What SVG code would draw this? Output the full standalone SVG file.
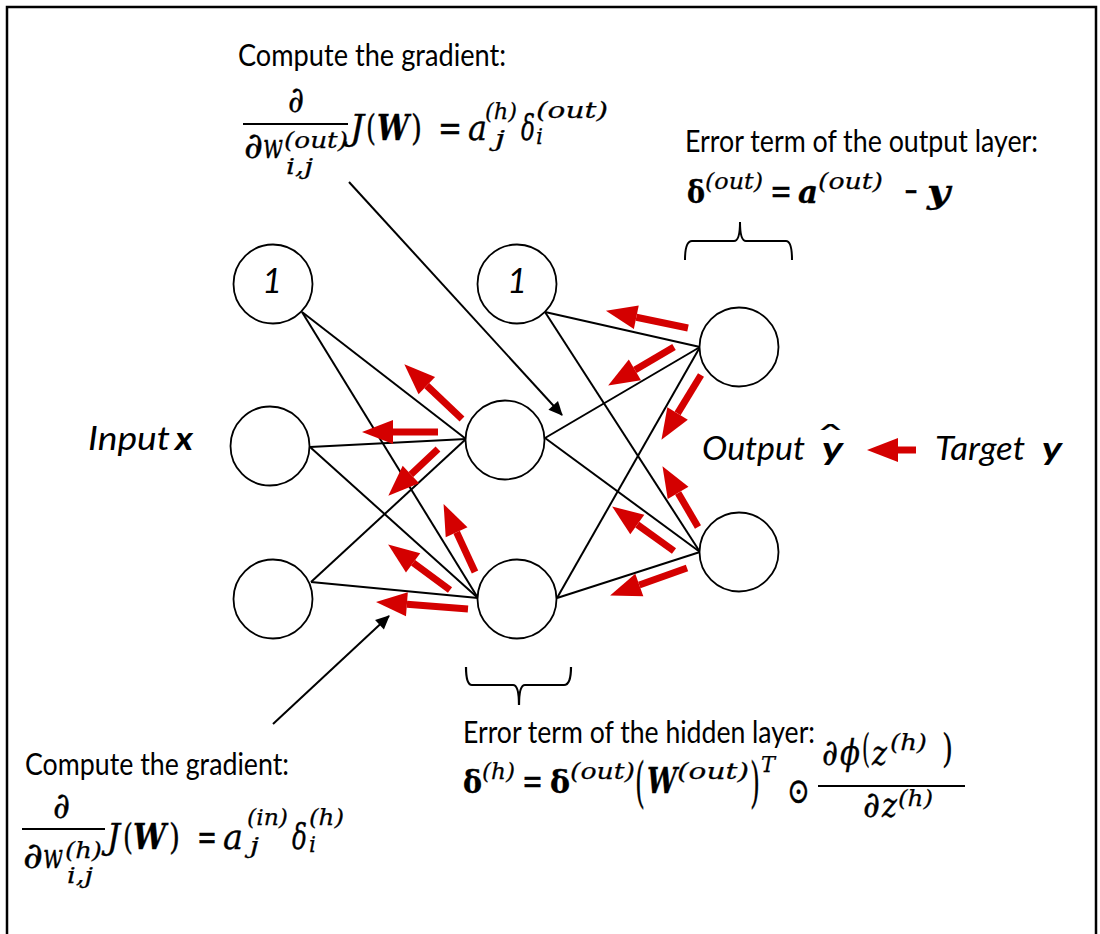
<svg xmlns="http://www.w3.org/2000/svg" width="1100" height="934" viewBox="0 0 1100 934">
<style>
.lbl{font-family:Lato,"Open Sans",sans-serif;font-size:30px;fill:#000}
.it{font-family:Lato,"Open Sans",sans-serif;font-style:italic;font-size:33px;fill:#000}
.m{font-family:"DejaVu Serif","Liberation Serif",serif;font-style:italic;font-size:36px;fill:#000;stroke:#000;stroke-width:0.35}
.mu{font-family:"DejaVu Serif","Liberation Serif",serif;font-size:36px;fill:#000;stroke:#000;stroke-width:0.35}
.s{font-family:"DejaVu Serif","Liberation Serif",serif;font-style:italic;font-size:23px;fill:#000;stroke:#000;stroke-width:0.25}
.b{font-weight:bold}
.node{fill:#fff;stroke:#000;stroke-width:1.8}
.edge{stroke:#000;stroke-width:2;fill:none}
.red{stroke:#d40000;stroke-width:7;fill:none;marker-end:url(#rh)}
.blk{stroke:#000;stroke-width:2;fill:none;marker-end:url(#bh)}
.frac{stroke:#000;stroke-width:1.8}
</style>
<defs>
<marker id="rh" markerUnits="userSpaceOnUse" markerWidth="32" markerHeight="26" refX="0" refY="12" orient="auto" overflow="visible">
<path d="M0,0 L31,12 L0,24 z" fill="#d40000"/>
</marker>
<marker id="bh" markerUnits="userSpaceOnUse" markerWidth="16" markerHeight="14" refX="13" refY="6.5" orient="auto" overflow="visible">
<path d="M0,0 L14,6.5 L0,13 z" fill="#000"/>
</marker>
</defs>
<rect width="1100" height="934" fill="#fff"/>
<path d="M7,934 V7 H1096 V934" fill="none" stroke="#000" stroke-width="2.5"/>

<g id="connectors">
<line class="edge" x1="302" y1="312" x2="466" y2="439"/>
<line class="edge" x1="302" y1="312" x2="478" y2="598"/>
<line class="edge" x1="310" y1="447" x2="466" y2="439"/>
<line class="edge" x1="310" y1="447" x2="478" y2="598"/>
<line class="edge" x1="311" y1="582" x2="466" y2="439"/>
<line class="edge" x1="311" y1="582" x2="478" y2="598"/>
<line class="edge" x1="545" y1="312" x2="700" y2="347"/>
<line class="edge" x1="545" y1="312" x2="700" y2="552"/>
<line class="edge" x1="545" y1="438" x2="700" y2="347"/>
<line class="edge" x1="545" y1="438" x2="700" y2="552"/>
<line class="edge" x1="557" y1="598" x2="700" y2="347"/>
<line class="edge" x1="557" y1="598" x2="700" y2="552"/>
<line class="blk" x1="349" y1="182" x2="562" y2="415"/>
<line class="blk" x1="273" y1="724" x2="389" y2="616"/>
</g>

<g id="backprop-arrows">
<line class="red" x1="462" y1="419" x2="426.8" y2="385.6"/>
<line class="red" x1="438" y1="432" x2="393" y2="432"/>
<line class="red" x1="438" y1="449" x2="410.9" y2="474.5"/>
<line class="red" x1="475" y1="572" x2="456.6" y2="532.2"/>
<line class="red" x1="450" y1="590" x2="413.1" y2="562.8"/>
<line class="red" x1="468" y1="609" x2="406.9" y2="604.3"/>
<line class="red" x1="688" y1="328" x2="636.3" y2="317.2"/>
<line class="red" x1="674" y1="347" x2="634.9" y2="369.9"/>
<line class="red" x1="701" y1="375" x2="677.6" y2="413.4"/>
<line class="red" x1="698" y1="527" x2="678.1" y2="492.9"/>
<line class="red" x1="674" y1="551" x2="637.3" y2="524.6"/>
<line class="red" x1="687" y1="568" x2="639.3" y2="585"/>
<line class="red" x1="916" y1="450" x2="898" y2="450"/>
</g>

<g id="input-bias"><circle class="node" cx="273" cy="284" r="39.5"/><text class="it" x="272" y="293" text-anchor="middle" style="font-size:34px">1</text></g>
<g id="input-x1"><circle class="node" cx="270" cy="446" r="39.5"/></g>
<g id="input-x2"><circle class="node" cx="273" cy="599" r="39.5"/></g>
<g id="hidden-bias"><circle class="node" cx="517" cy="284" r="39.5"/><text class="it" x="517" y="293" text-anchor="middle" style="font-size:34px">1</text></g>
<g id="hidden-h1"><circle class="node" cx="505" cy="440" r="39.5"/></g>
<g id="hidden-h2"><circle class="node" cx="517" cy="599" r="39.5"/></g>
<g id="output-o1"><circle class="node" cx="739" cy="347" r="39.5"/></g>
<g id="output-o2"><circle class="node" cx="739" cy="552" r="39.5"/></g>

<g id="braces">
<path d="M685,260 Q685,241 692,241 H734 Q740,241 740,222 Q740,241 746,241 H786 Q792,241 792,260" fill="none" stroke="#000" stroke-width="2"/>
<path d="M466,667 Q466,685 472,685 H513 Q519,685 519,705 Q519,685 525,685 H564 Q571,685 571,667" fill="none" stroke="#000" stroke-width="2.2"/>
</g>

<g id="label-input">
<text class="it" x="88" y="450" textLength="82" lengthAdjust="spacingAndGlyphs">Input</text>
<text class="it b" x="175" y="450" textLength="18" lengthAdjust="spacingAndGlyphs">x</text>
</g>
<g id="label-output">
<text class="it" x="702" y="460" textLength="103" lengthAdjust="spacingAndGlyphs">Output</text>
<text class="it b" x="822" y="460" textLength="21" lengthAdjust="spacingAndGlyphs">y</text>
<text class="mu" x="815" y="451" textLength="31" lengthAdjust="spacingAndGlyphs" style="font-size:34px;stroke-width:0.2">ˆ</text>
</g>
<g id="label-target">
<text class="it" x="935" y="460" textLength="90" lengthAdjust="spacingAndGlyphs">Target</text>
<text class="it b" x="1042" y="460" textLength="20" lengthAdjust="spacingAndGlyphs">y</text>
</g>

<g id="grad-out">
<text class="lbl" x="238" y="66" textLength="268" lengthAdjust="spacingAndGlyphs">Compute the gradient:</text>
<text class="m" x="288" y="112" textLength="16" lengthAdjust="spacingAndGlyphs">∂</text>
<line class="frac" x1="243" y1="124" x2="348" y2="124"/>
<text class="m" x="244" y="158" textLength="19" lengthAdjust="spacingAndGlyphs">∂</text>
<text class="m" x="263" y="158" textLength="20" lengthAdjust="spacingAndGlyphs">w</text>
<text class="s" x="284" y="148" textLength="64" lengthAdjust="spacingAndGlyphs">(out)</text>
<text class="s" x="286" y="174" textLength="27" lengthAdjust="spacingAndGlyphs">i,j</text>
<text class="m" x="350" y="140" textLength="14" lengthAdjust="spacingAndGlyphs">J</text>
<text class="mu" x="366" y="140" textLength="10" lengthAdjust="spacingAndGlyphs">(</text>
<text class="m b" x="377" y="140" textLength="32" lengthAdjust="spacingAndGlyphs">W</text>
<text class="mu" x="411" y="140" textLength="11" lengthAdjust="spacingAndGlyphs">)</text>
<text class="mu" x="438" y="140" textLength="24" lengthAdjust="spacingAndGlyphs">=</text>
<text class="m" x="468" y="140" textLength="19" lengthAdjust="spacingAndGlyphs">a</text>
<text class="s" x="485" y="119" textLength="32" lengthAdjust="spacingAndGlyphs">(h)</text>
<text class="s" x="495" y="146" textLength="10" lengthAdjust="spacingAndGlyphs">j</text>
<text class="m" x="521" y="140" textLength="14" lengthAdjust="spacingAndGlyphs">δ</text>
<text class="s" x="536" y="118" textLength="72" lengthAdjust="spacingAndGlyphs">(out)</text>
<text class="s" x="536" y="144" textLength="7" lengthAdjust="spacingAndGlyphs">i</text>
</g>

<g id="error-out">
<text class="lbl" x="685" y="152" textLength="353" lengthAdjust="spacingAndGlyphs">Error term of the output layer:</text>
<text class="mu b" x="687" y="203" textLength="18" lengthAdjust="spacingAndGlyphs" style="font-size:32px">δ</text>
<text class="s" x="705" y="189" textLength="58" lengthAdjust="spacingAndGlyphs">(out)</text>
<text class="mu" x="770" y="203" textLength="22" lengthAdjust="spacingAndGlyphs">=</text>
<text class="m b" x="798" y="203" textLength="20" lengthAdjust="spacingAndGlyphs" style="font-size:32px">a</text>
<text class="s" x="818" y="189" textLength="65" lengthAdjust="spacingAndGlyphs">(out)</text>
<text class="mu" x="904" y="203" textLength="14" lengthAdjust="spacingAndGlyphs">−</text>
<text class="m b" x="927" y="203" textLength="23" lengthAdjust="spacingAndGlyphs" style="font-size:32px">y</text>
</g>

<g id="grad-hidden">
<text class="lbl" x="25" y="775" textLength="264" lengthAdjust="spacingAndGlyphs">Compute the gradient:</text>
<text class="m" x="53" y="818" textLength="17" lengthAdjust="spacingAndGlyphs">∂</text>
<line class="frac" x1="22" y1="829" x2="105" y2="829"/>
<text class="m" x="23" y="868" textLength="20" lengthAdjust="spacingAndGlyphs">∂</text>
<text class="m" x="43" y="868" textLength="20" lengthAdjust="spacingAndGlyphs">w</text>
<text class="s" x="65" y="858" textLength="37" lengthAdjust="spacingAndGlyphs">(h)</text>
<text class="s" x="67" y="883" textLength="26" lengthAdjust="spacingAndGlyphs">i,j</text>
<text class="m" x="107" y="849" textLength="13" lengthAdjust="spacingAndGlyphs">J</text>
<text class="mu" x="123" y="849" textLength="10" lengthAdjust="spacingAndGlyphs">(</text>
<text class="m b" x="133" y="849" textLength="33" lengthAdjust="spacingAndGlyphs">W</text>
<text class="mu" x="169" y="849" textLength="11" lengthAdjust="spacingAndGlyphs">)</text>
<text class="mu" x="197" y="849" textLength="20" lengthAdjust="spacingAndGlyphs">=</text>
<text class="m" x="223" y="849" textLength="20" lengthAdjust="spacingAndGlyphs">a</text>
<text class="s" x="247" y="825" textLength="41" lengthAdjust="spacingAndGlyphs">(in)</text>
<text class="s" x="250" y="853" textLength="9" lengthAdjust="spacingAndGlyphs">j</text>
<text class="m" x="292" y="849" textLength="15" lengthAdjust="spacingAndGlyphs">δ</text>
<text class="s" x="309" y="825" textLength="35" lengthAdjust="spacingAndGlyphs">(h)</text>
<text class="s" x="309" y="852" textLength="7" lengthAdjust="spacingAndGlyphs">i</text>
</g>

<g id="error-hidden">
<text class="lbl" x="463" y="743" textLength="352" lengthAdjust="spacingAndGlyphs">Error term of the hidden layer:</text>
<text class="mu b" x="463" y="793" textLength="19" lengthAdjust="spacingAndGlyphs" style="font-size:32px">δ</text>
<text class="s" x="482" y="779" textLength="33" lengthAdjust="spacingAndGlyphs">(h)</text>
<text class="mu" x="522" y="793" textLength="21" lengthAdjust="spacingAndGlyphs">=</text>
<text class="mu b" x="550" y="793" textLength="20" lengthAdjust="spacingAndGlyphs" style="font-size:32px">δ</text>
<text class="s" x="570" y="779" textLength="65" lengthAdjust="spacingAndGlyphs">(out)</text>
<text class="mu" x="635" y="801" textLength="10" lengthAdjust="spacingAndGlyphs" style="font-size:54px">(</text>
<text class="m b" x="647" y="793" textLength="30" lengthAdjust="spacingAndGlyphs">W</text>
<text class="s" x="677" y="779" textLength="72" lengthAdjust="spacingAndGlyphs">(out)</text>
<text class="mu" x="750" y="801" textLength="10" lengthAdjust="spacingAndGlyphs" style="font-size:54px">)</text>
<text class="s" x="761" y="772" textLength="14" lengthAdjust="spacingAndGlyphs">T</text>
<text class="mu" x="787" y="803" textLength="23" lengthAdjust="spacingAndGlyphs">⊙</text>
<text class="m" x="822" y="765" textLength="16" lengthAdjust="spacingAndGlyphs">∂</text>
<text class="m" x="840" y="765" textLength="20" lengthAdjust="spacingAndGlyphs">ϕ</text>
<text class="mu" x="862" y="762" textLength="8" lengthAdjust="spacingAndGlyphs" style="font-size:40px">(</text>
<text class="m" x="872" y="765" textLength="15" lengthAdjust="spacingAndGlyphs">z</text>
<text class="s" x="890" y="750" textLength="37" lengthAdjust="spacingAndGlyphs">(h)</text>
<text class="mu" x="942" y="762" textLength="11" lengthAdjust="spacingAndGlyphs" style="font-size:40px">)</text>
<line class="frac" x1="818" y1="786" x2="965" y2="786"/>
<text class="m" x="863" y="817" textLength="17" lengthAdjust="spacingAndGlyphs">∂</text>
<text class="m" x="882" y="817" textLength="15" lengthAdjust="spacingAndGlyphs">z</text>
<text class="s" x="898" y="806" textLength="35" lengthAdjust="spacingAndGlyphs">(h)</text>
</g>
</svg>
